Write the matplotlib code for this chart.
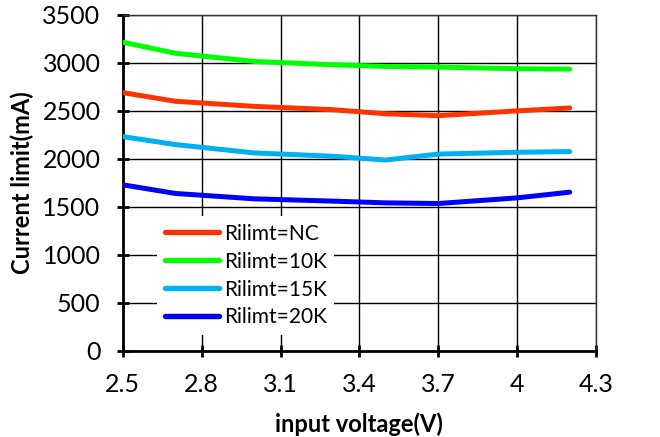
import matplotlib
matplotlib.use("Agg")
import matplotlib.pyplot as plt

voltage = [2.5, 2.7, 3.0, 3.3, 3.5, 3.7, 4.0, 4.2]
nc = [2690, 2600, 2547, 2512, 2470, 2450, 2500, 2530]
r10k = [3215, 3100, 3015, 2980, 2963, 2956, 2939, 2935]
r15k = [2232, 2149, 2062, 2027, 1988, 2050, 2069, 2076]
r20k = [1730, 1640, 1584, 1560, 1542, 1535, 1594, 1653]
labels = ["Rilimt=NC", "Rilimt=10K", "Rilimt=15K", "Rilimt=20K"]
colors = ["#FF3300", "#00FF00", "#00B0F0", "#0000FF"]
xticks = [2.5, 2.8, 3.1, 3.4, 3.7, 4.0, 4.3]
xticklabels = ["2.5", "2.8", "3.1", "3.4", "3.7", "4", "4.3"]
yticks = [0, 500, 1000, 1500, 2000, 2500, 3000, 3500]

plt.rcParams['font.family'] = ['Lato', 'DejaVu Sans']
fig = plt.figure(figsize=(6.6, 4.37), dpi=100)
ax = fig.add_axes([0.186, 0.197, 0.717, 0.769])

for ys, lab, c in zip([nc, r10k, r15k, r20k], labels, colors):
    ax.plot(voltage, ys, color=c, lw=3.6, label=lab, solid_capstyle='round', zorder=3)

ax.set_xlim(2.5, 4.3)
ax.set_ylim(0, 3500)
ax.set_xticks(xticks)
ax.set_xticklabels(xticklabels)
ax.set_yticks(yticks)
ax.grid(True, color='black', lw=1.0)
ax.set_axisbelow(True)
for s in ['top', 'right']:
    ax.spines[s].set_linewidth(1.0)
    ax.spines[s].set_color('#333333')
for s in ['left', 'bottom']:
    ax.spines[s].set_linewidth(2.0)
ax.tick_params(axis='both', direction='inout', length=8, width=2, labelsize=18)
ax.tick_params(axis='x', pad=12)
ax.tick_params(axis='y', pad=12)
ax.set_xlabel("input voltage(V)", fontsize=17, fontweight='bold', labelpad=12)
ax.set_ylabel("Current limit(mA)", fontsize=17, fontweight='bold', labelpad=6)

leg = ax.legend(loc='lower left', bbox_to_anchor=(0.073, 0.048), frameon=True, fontsize=15,
                handlelength=2.6, handletextpad=0.25, labelspacing=0.38, borderpad=0.35,
                borderaxespad=0)
leg.get_frame().set_edgecolor('none')
leg.get_frame().set_facecolor('white')
leg.get_frame().set_alpha(1)
leg.get_frame().set_boxstyle('square', pad=0)
for l in leg.get_lines():
    l.set_linewidth(3.9)

fig.savefig("out.png", dpi=100)
